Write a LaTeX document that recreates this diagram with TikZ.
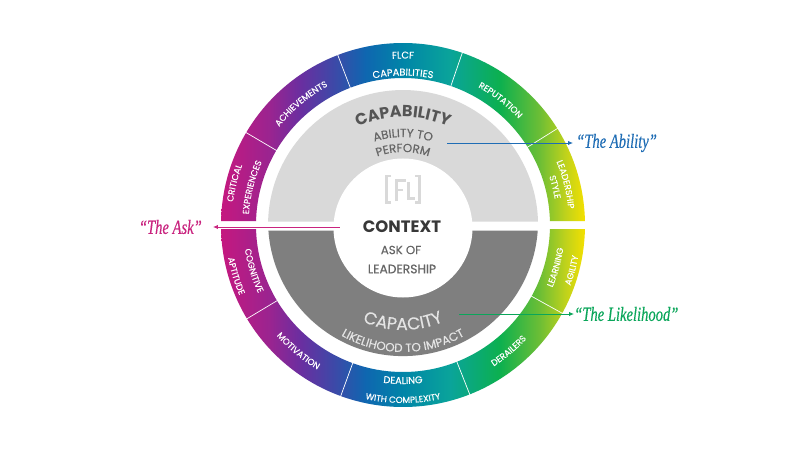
\documentclass[tikz,border=0pt]{standalone}
\usepackage{fontspec}
\setmainfont{Poppins}
\newfontfamily\handf{Liberation Serif}[FakeBold=0.3]
\newfontfamily\medf{Poppins}[FakeBold=0.35]
\usetikzlibrary{decorations.text,arrows.meta}
\definecolor{c0}{HTML}{C5187F}\definecolor{c1}{HTML}{9A2490}\definecolor{c2}{HTML}{6A2EA0}
\definecolor{c3}{HTML}{3B4AA8}\definecolor{c4}{HTML}{0F66B0}\definecolor{c5}{HTML}{0085A8}
\definecolor{c6}{HTML}{0AA49A}\definecolor{c7}{HTML}{0CB04F}\definecolor{c8}{HTML}{6DBE35}
\definecolor{c9}{HTML}{BFD21C}\definecolor{c10}{HTML}{F4E000}
\pgfdeclarehorizontalshading{ringgrad}{100bp}{
 color(0bp)=(c0); color(25bp)=(c0); color(31.7bp)=(c1); color(35.9bp)=(c2); color(40.7bp)=(c3);
 color(44.8bp)=(c4); color(50bp)=(c5); color(56.5bp)=(c6); color(63.3bp)=(c7); color(68.8bp)=(c8);
 color(72.3bp)=(c9); color(75bp)=(c10); color(100bp)=(c10)}
\definecolor{capgray}{HTML}{D9D9D9}\definecolor{cpcgray}{HTML}{7F7F7F}
\definecolor{darktxt}{HTML}{555555}\definecolor{midtxt}{HTML}{666666}\definecolor{lighttxt}{HTML}{E4E4E4}
\definecolor{logogray}{HTML}{D9D9D9}
\definecolor{askc}{HTML}{C9247F}\definecolor{abilc}{HTML}{1F6DB5}\definecolor{likec}{HTML}{0AA65A}
\newcommand\ringf{\medf\fontsize{8.8}{10}\selectfont\color{white}}
\newcommand\ringb{\medf\fontsize{9.8}{11}\selectfont\color{white}}
\newcommand\capf{\fontsize{16}{18}\selectfont\bfseries\color{darktxt}}
\newcommand\subf{\medf\fontsize{11.8}{13}\selectfont\color{midtxt}}
\newcommand\cpcf{\medf\fontsize{17.2}{19}\selectfont\color{lighttxt}}
\newcommand\cpsf{\medf\fontsize{11.8}{13}\selectfont\color{lighttxt}}
% radius, centre angle, format, text
\newcommand\cwtext[4]{\path[decorate,decoration={text along path,text align=center,text={|#3|#4}}]
  ({#2+50}:#1) arc[start angle={#2+50},end angle={#2-50},radius=#1];}
\newcommand\ccwtext[4]{\path[decorate,decoration={text along path,text align=center,text={|#3|#4}}]
  ({#2-50}:#1) arc[start angle={#2-50},end angle={#2+50},radius=#1];}
\newcommand\handtext[1]{\scalebox{0.73}[1]{#1}}
\tikzset{
 sep/.style={white,line width=0.7pt},
 callout/.style={line width=0.9pt,-{Latex[length=5pt,width=4.5pt]}},
 hand/.style={font=\handf\itshape\fontsize{20}{22}\selectfont},
 logo/.style={logogray,line width=2.6pt}
}
\begin{document}
\begin{tikzpicture}[x=1pt,y=1pt]
\useasboundingbox (-403,-225) rectangle (397,225);
\fill[white] (-403,-225) rectangle (397,225);
% ring halves
\path[shading=ringgrad] (1.26:182) arc[start angle=1.26,end angle=178.74,radius=182]
  -- (178.44:147) arc[start angle=178.44,end angle=1.56,radius=147] -- cycle;
\path[shading=ringgrad] (-1.26:182) arc[start angle=-1.26,end angle=-178.74,radius=182]
  -- (-178.44:147) arc[start angle=-178.44,end angle=-1.56,radius=147] -- cycle;
% separators
\foreach \a in {149.5,111,71,32,211,250,291.5,331} \draw[sep] (\a:146) -- (\a:183);
% inner discs
\fill[capgray] (-134.9,3.5) arc[start angle=178.5,end angle=1.5,radius=135] -- cycle;
\fill[cpcgray] (-134.6,-5.5) arc[start angle=-176,end angle=-4,radius=135] -- cycle;
\fill[white] (0,-3) circle[radius=69.5];
% logo
\draw[logo] (-12,49) -- (-16.5,49) -- (-16.5,22.5) -- (-12,22.5);
\draw[logo] (12,49) -- (16.5,49) -- (16.5,22.5) -- (12,22.5);
\draw[logo,line width=3pt] (-7,24) -- (-7,45) -- (3,45);
\draw[logo,line width=2.2pt] (-7,35) -- (0,35);
\draw[logo,line width=3pt] (5,43) -- (5,26.5) -- (12,26.5);
% ring labels
\cwtext{171.5}{166}{\ringf}{CRITICAL}
\cwtext{154.5}{166}{\ringf}{EXPERIENCES}
\cwtext{158}{130}{\ringf}{ACHIEVEMENTS}
\cwtext{166.5}{90}{\ringb}{FLCF}
\cwtext{149.5}{90}{\ringb}{CAPABILITIES}
\cwtext{157}{52}{\ringf}{REPUTATION}
\cwtext{166}{14}{\ringf}{LEADERSHIP}
\cwtext{154}{14}{\ringf}{STYLE}
\ccwtext{160}{197}{\ringf}{COGNITIVE}
\ccwtext{178}{197}{\ringf}{APTITUDE}
\ccwtext{168}{230.3}{\ringf}{MOTIVATION}
\ccwtext{159}{270}{\ringb}{DEALING}
\ccwtext{178}{270}{\ringf}{WITH COMPLEXITY}
\ccwtext{168}{310}{\ringf}{DERAILERS}
\ccwtext{162}{344.5}{\ringf}{LEARNING}
\ccwtext{178}{345}{\ringf}{AGILITY}
% inner arc labels
\begin{scope}[shift={(0,-3)}]
\cwtext{111}{90}{\capf}{CAPABILITY}
\cwtext{91}{90}{\subf}{ABILITY TO}
\cwtext{76}{90}{\subf}{PERFORM}
\ccwtext{102}{270}{\cpcf}{CAPACITY}
\ccwtext{124}{270}{\cpsf}{LIKELIHOOD TO IMPACT}
\end{scope}
% centre
\node[inner sep=0pt,font=\fontsize{16.5}{18}\selectfont\bfseries,text=black!78] (context) at (-1,-2) {CONTEXT};
\node[inner sep=0pt,font=\medf\fontsize{11.8}{13}\selectfont,text=midtxt] (askof) at (-2,-25) {ASK OF};
\node[inner sep=0pt,font=\medf\fontsize{12.3}{14}\selectfont,text=midtxt] (leadership) at (-1,-44) {LEADERSHIP};
% callouts
\coordinate (abilstart) at (44,82);
\coordinate (askstart) at (-63,-2);
\coordinate (likestart) at (56,-89);
\node[hand,text=abilc,anchor=west,inner sep=0pt,inner xsep=3pt] (abil) at (170,82) {\handtext{“The Ability”}};
\node[hand,text=askc,anchor=east,inner sep=0pt,inner xsep=11pt] (ask) at (-190,-2) {\handtext{“The Ask”}};
\node[hand,text=likec,anchor=west,inner sep=0pt] (like) at (171,-89) {\handtext{“The Likelihood”}};
\draw[callout,abilc] (abilstart) -- (abil.west);
\draw[callout,askc] (askstart) -- (ask.east);
\draw[callout,likec] (likestart) -- (like.west);
\end{tikzpicture}
\end{document}
